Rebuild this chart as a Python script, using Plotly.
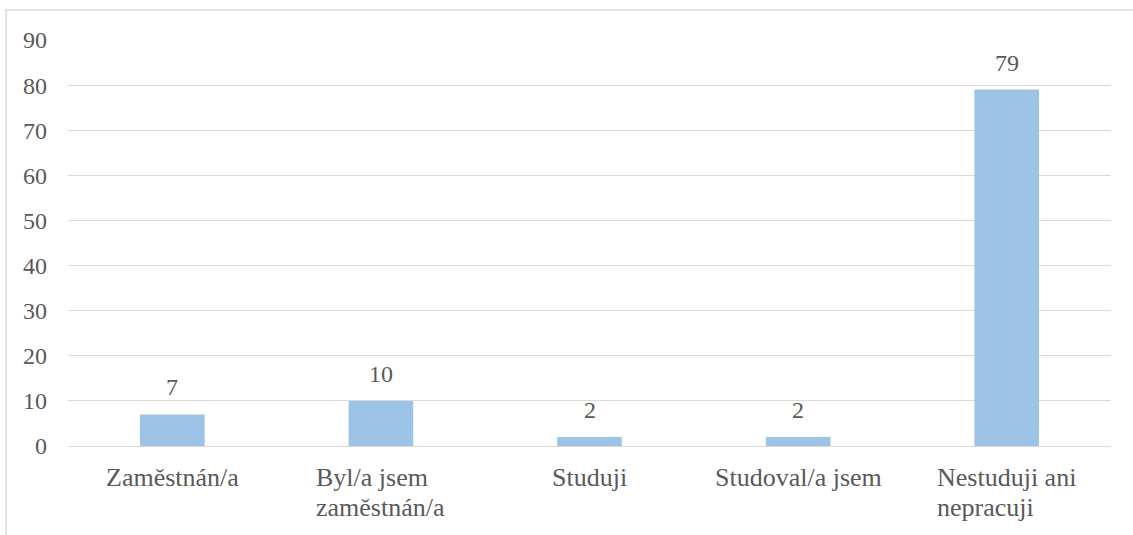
import plotly.graph_objects as go

# data
categories = ['Zaměstnán/a', 'Byl/a jsem zaměstnán/a', 'Studuji', 'Studoval/a jsem', 'Nestuduji ani nepracuji']
tick_labels = ['Zaměstnán/a', 'Byl/a jsem<br>zaměstnán/a', 'Studuji', 'Studoval/a jsem', 'Nestuduji ani<br>nepracuji']
values = [7, 10, 2, 2, 79]
y_ticks = [0, 10, 20, 30, 40, 50, 60, 70, 80, 90]

FONT = 'Liberation Serif, Times New Roman, serif'
GREY = '#595959'
GRID = '#D9D9D9'

fig = go.Figure()
fig.add_trace(go.Bar(
    x=categories, y=values,
    marker=dict(color='#9DC3E6', line=dict(width=0)),
    width=0.31,
))

# value labels above the bars
for cat, v in zip(categories, values):
    fig.add_annotation(
        x=cat, y=v, xref='x', yref='y', yanchor='bottom', yshift=12,
        text=str(v), showarrow=False,
        font=dict(family=FONT, size=24, color=GREY),
    )

# category labels (multi-line, left-aligned inside a centred block)
span = '<span style="font-size:26px">'
for cat, lab in zip(categories, tick_labels):
    fig.add_annotation(
        x=cat, y=0, xref='x', yref='paper', yanchor='top', xanchor='center',
        yshift=-15, text=span + lab.replace('<br>', '</span><br>' + span) + '</span>',
        showarrow=False, align='left',
        font=dict(family=FONT, size=23, color=GREY),
    )

# chart frame
fig.add_shape(type='rect', xref='paper', yref='paper',
              x0=-0.0594, x1=1.03, y0=-0.25, y1=1.074,
              line=dict(color=GRID, width=1.5), layer='below')

fig.update_xaxes(showticklabels=False, showgrid=False, showline=False, ticks='')
fig.update_yaxes(
    range=[0, 90], tickvals=y_ticks, showgrid=True, gridcolor=GRID, gridwidth=1.3,
    zeroline=True, zerolinecolor=GRID, zerolinewidth=1.3,
    tickfont=dict(family=FONT, size=24, color=GREY), ticks='',
    ticklabelstandoff=20,
)
fig.update_layout(
    width=1133, height=535,
    margin=dict(l=68, r=22, t=40, b=89),
    plot_bgcolor='white', paper_bgcolor='white',
    showlegend=False,
)

fig.write_html("out.html", config={'displayModeBar': False},
               post_script="document.body.style.margin='0';")
